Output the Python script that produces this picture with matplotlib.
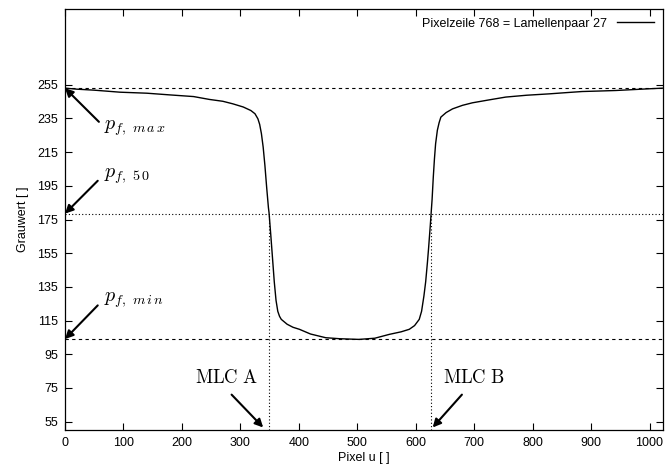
import matplotlib
matplotlib.use("Agg")
import matplotlib.pyplot as plt

plt.rcParams['font.family'] = ['Liberation Sans', 'DejaVu Sans']
plt.rcParams['mathtext.fontset'] = 'cm'

# Profile of pixel row 768
pixel_u = [0, 20, 50, 94, 140, 179, 220, 247, 270, 287, 305, 318, 325, 330, 333,
           336, 339, 342, 345, 348, 349, 352, 355, 358, 361, 364, 367, 370, 380,
           390, 401, 420, 446, 470, 503, 530, 555, 575, 589, 598, 606, 610, 614,
           617, 620, 622, 625, 628, 630, 632, 634, 637, 640, 643, 652, 663, 680,
           697, 725, 754, 790, 828, 860, 885, 915, 942, 970, 998, 1023]
grauwert = [253.0, 252.4, 251.8, 250.6, 250.0, 249.0, 248.0, 246.3, 245.2, 243.7,
            241.8, 239.7, 237.8, 234.8, 231.5, 226.0, 218.0, 207.0, 194.0, 182.0,
            179.2, 166.0, 152.0, 138.0, 127.0, 120.5, 117.5, 115.7, 112.8, 111.0,
            109.8, 107.0, 104.8, 104.2, 103.8, 104.5, 106.8, 108.3, 109.8, 112.0,
            115.7, 120.5, 129.6, 138.0, 149.5, 158.0, 172.0, 187.0, 200.0, 211.0,
            220.0, 228.0, 232.5, 235.8, 238.5, 240.7, 242.8, 244.3, 246.0, 247.7,
            248.8, 249.6, 250.4, 251.0, 251.3, 251.6, 252.1, 252.6, 253.0]

p_max = 253.0
p_min = 104.0
p_50 = 178.5
mlc_a = 349
mlc_b = 626

xticks = list(range(0, 1001, 100))
yticks = list(range(55, 256, 20))

fig = plt.figure(figsize=(6.65, 4.73), dpi=100)
ax = fig.add_axes([65/665, 1 - 430/473, (663 - 65)/665, (430 - 9)/473])

ax.plot(pixel_u, grauwert, color='black', lw=1.0,
        label='Pixelzeile 768 = Lamellenpaar 27')

ax.axhline(p_max, color='black', lw=0.8, ls=(0, (3, 3)))
ax.axhline(p_min, color='black', lw=0.8, ls=(0, (3, 3)))
ax.axhline(p_50, color='black', lw=0.8, ls=(0, (1, 2)))
ax.plot([mlc_a, mlc_a], [50, p_50], color='black', lw=0.8, ls=(0, (1, 2)))
ax.plot([mlc_b, mlc_b], [50, p_50], color='black', lw=0.8, ls=(0, (1, 2)))

ax.set_xlim(0, 1023)
ax.set_ylim(50, 300)
ax.set_xticks(xticks)
ax.set_yticks(yticks)
ax.tick_params(direction='in', length=5, width=0.8, top=True, right=True,
               labelsize=9, pad=5)
for s in ax.spines.values():
    s.set_linewidth(0.9)

ax.set_xlabel('Pixel u [ ]', fontsize=9, labelpad=2)
ax.set_ylabel('Grauwert [ ]', fontsize=9, labelpad=6)

arrow = dict(arrowstyle='-|>', lw=1.5, color='black', mutation_scale=12,
             shrinkA=0, shrinkB=0)
pfs = 14.5
mfs = 13.5
ax.annotate('', xy=(0, p_max), xytext=(58, 233), arrowprops=arrow)
ax.text(66, 229, r'$p_{f,\ m\,a\,x}$', fontsize=pfs, va='center', ha='left')
ax.annotate('', xy=(0, p_50), xytext=(56, 198), arrowprops=arrow)
ax.text(66, 201, r'$p_{f,\ 5\,0}$', fontsize=pfs, va='center', ha='left')
ax.annotate('', xy=(0, p_min), xytext=(56, 124), arrowprops=arrow)
ax.text(66, 127, r'$p_{f,\ m\,i\,n}$', fontsize=pfs, va='center', ha='left')

ax.annotate('', xy=(mlc_a - 10, 51.5), xytext=(285, 71), arrowprops=arrow)
ax.text(277, 81, r'$\mathrm{MLC\ A}$', fontsize=mfs, va='center', ha='center')
ax.annotate('', xy=(mlc_b + 3, 51.5), xytext=(679, 71), arrowprops=arrow)
ax.text(646, 81, r'$\mathrm{MLC\ B}$', fontsize=mfs, va='center', ha='left')

ax.legend(loc='upper right', frameon=False, markerfirst=False, fontsize=9,
          handlelength=3.0, borderaxespad=0.3)

fig.savefig('out.png', dpi=100)
